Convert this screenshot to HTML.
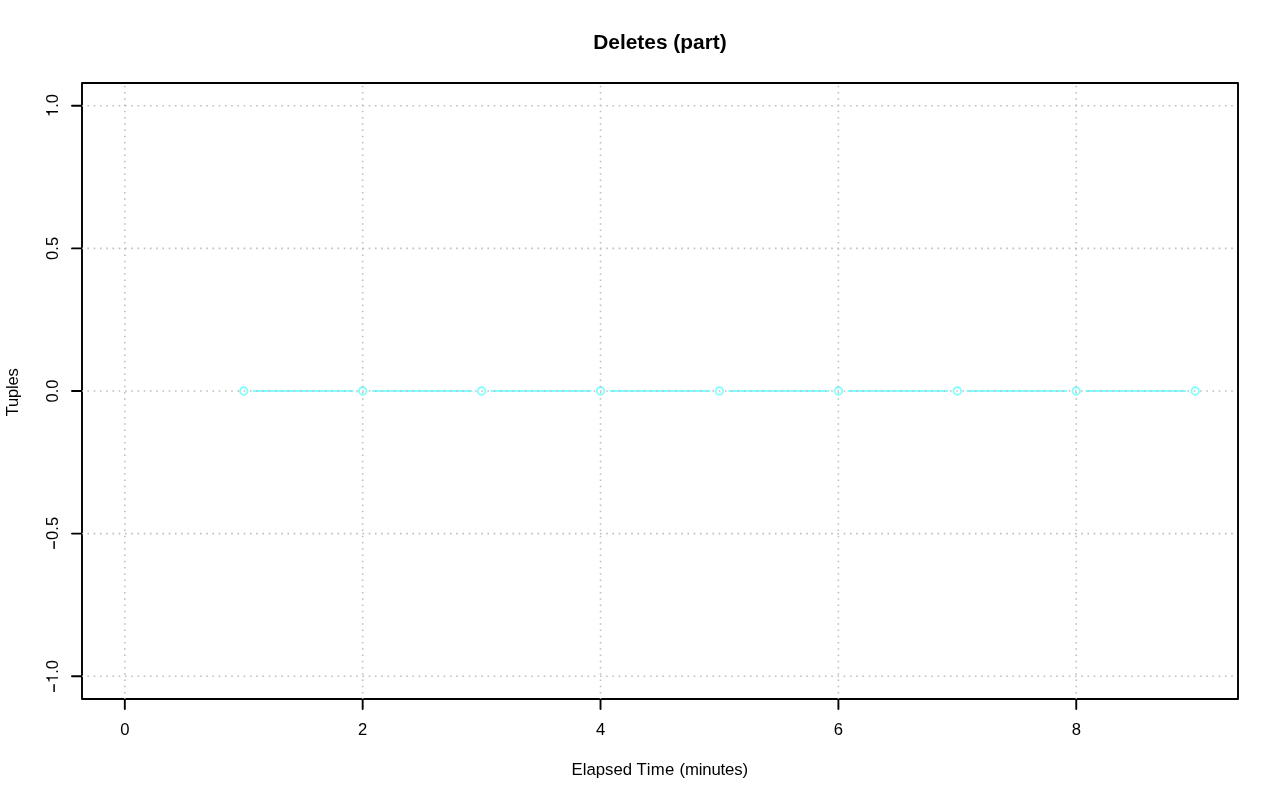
<!DOCTYPE html>
<html><head><meta charset="utf-8"><title>Deletes (part)</title>
<style>
html,body{margin:0;padding:0;background:#fff;}
svg{display:block;will-change:transform;}
text{font-family:"Liberation Sans",sans-serif;fill:#000;}
.t{font-size:16.667px;}
.m{font-size:20.9px;font-weight:bold;}
</style></head><body>
<svg width="1280" height="801" viewBox="0 0 1280 801">
<rect x="0" y="0" width="1280" height="801" fill="#fff"/>

<g stroke="#7FFFFF" stroke-width="2" stroke-linecap="round" fill="none">
<line x1="253.74" y1="391.00" x2="352.67" y2="391.00"/>
<line x1="372.67" y1="391.00" x2="471.60" y2="391.00"/>
<line x1="491.60" y1="391.00" x2="590.53" y2="391.00"/>
<line x1="610.53" y1="391.00" x2="709.47" y2="391.00"/>
<line x1="729.47" y1="391.00" x2="828.40" y2="391.00"/>
<line x1="848.40" y1="391.00" x2="947.33" y2="391.00"/>
<line x1="967.33" y1="391.00" x2="1066.26" y2="391.00"/>
<line x1="1086.26" y1="391.00" x2="1185.19" y2="391.00"/>
<circle cx="243.74" cy="391.00" r="3.75" stroke-width="1.8"/>
<circle cx="362.67" cy="391.00" r="3.75" stroke-width="1.8"/>
<circle cx="481.60" cy="391.00" r="3.75" stroke-width="1.8"/>
<circle cx="600.53" cy="391.00" r="3.75" stroke-width="1.8"/>
<circle cx="719.47" cy="391.00" r="3.75" stroke-width="1.8"/>
<circle cx="838.40" cy="391.00" r="3.75" stroke-width="1.8"/>
<circle cx="957.33" cy="391.00" r="3.75" stroke-width="1.8"/>
<circle cx="1076.26" cy="391.00" r="3.75" stroke-width="1.8"/>
<circle cx="1195.19" cy="391.00" r="3.75" stroke-width="1.8"/>
</g>
<g stroke="#000" stroke-width="1.9" stroke-linecap="round" stroke-linejoin="round" fill="none">
<rect x="82" y="83" width="1156" height="616"/>
<line x1="124.81" y1="699" x2="124.81" y2="709"/>
<line x1="362.67" y1="699" x2="362.67" y2="709"/>
<line x1="600.53" y1="699" x2="600.53" y2="709"/>
<line x1="838.40" y1="699" x2="838.40" y2="709"/>
<line x1="1076.26" y1="699" x2="1076.26" y2="709"/>
<line x1="82" y1="676.19" x2="72" y2="676.19"/>
<line x1="82" y1="533.59" x2="72" y2="533.59"/>
<line x1="82" y1="391.00" x2="72" y2="391.00"/>
<line x1="82" y1="248.41" x2="72" y2="248.41"/>
<line x1="82" y1="105.81" x2="72" y2="105.81"/>
</g>
<g stroke="#BEBEBE" stroke-width="1.6" stroke-linecap="butt" stroke-dasharray="1.6 4.65" stroke-dashoffset="0.8" fill="none">
<line x1="124.81" y1="699" x2="124.81" y2="83"/>
<line x1="362.67" y1="699" x2="362.67" y2="83"/>
<line x1="600.53" y1="699" x2="600.53" y2="83"/>
<line x1="838.40" y1="699" x2="838.40" y2="83"/>
<line x1="1076.26" y1="699" x2="1076.26" y2="83"/>
<line x1="82" y1="676.19" x2="1237" y2="676.19"/>
<line x1="82" y1="533.59" x2="1237" y2="533.59"/>
<line x1="82" y1="391.00" x2="1237" y2="391.00"/>
<line x1="82" y1="248.41" x2="1237" y2="248.41"/>
<line x1="82" y1="105.81" x2="1237" y2="105.81"/>
</g>
<text class="m" x="660" y="48.8" text-anchor="middle">Deletes (part)</text>
<text class="t" style="font-size:16.75px" x="659.8" y="774.7" text-anchor="middle">Elapsed T<tspan style="letter-spacing:0.3px">ime </tspan><tspan style="letter-spacing:-0.15px">(minutes</tspan>)</text>
<text class="t" style="letter-spacing:-0.26px" transform="translate(18,416.2) rotate(-90)" text-anchor="start">Tuples</text>
<text class="t" x="124.81" y="734.5" text-anchor="middle">0</text>
<text class="t" x="362.67" y="734.5" text-anchor="middle">2</text>
<text class="t" x="600.53" y="734.5" text-anchor="middle">4</text>
<text class="t" x="838.40" y="734.5" text-anchor="middle">6</text>
<text class="t" x="1076.26" y="734.5" text-anchor="middle">8</text>
<text class="t" transform="translate(58,391.00) rotate(-90)" text-anchor="middle">0.0</text>
<text class="t" transform="translate(58,248.41) rotate(-90)" text-anchor="middle">0.5</text>
<g transform="translate(58,533.29) rotate(-90)"><rect x="-15.6" y="-4.65" width="7.8" height="1.5" fill="#000"/><text class="t" x="-6.72" y="0">0.5</text></g>
<g transform="translate(58,105.51) rotate(-90)"><path transform="translate(-11.58,0) scale(0.016667)" d="M359 0H271V-505H102V-568C207 -572 270 -596 296 -709H359Z" fill="#000"/><text class="t" x="-2.32" y="0">.0</text></g>
<g transform="translate(58,676.39) rotate(-90)"><rect x="-15.6" y="-4.65" width="7.8" height="1.5" fill="#000"/><path transform="translate(-6.72,0) scale(0.016667)" d="M359 0H271V-505H102V-568C207 -572 270 -596 296 -709H359Z" fill="#000"/><text class="t" x="2.55" y="0">.0</text></g>
</svg>
</body></html>
